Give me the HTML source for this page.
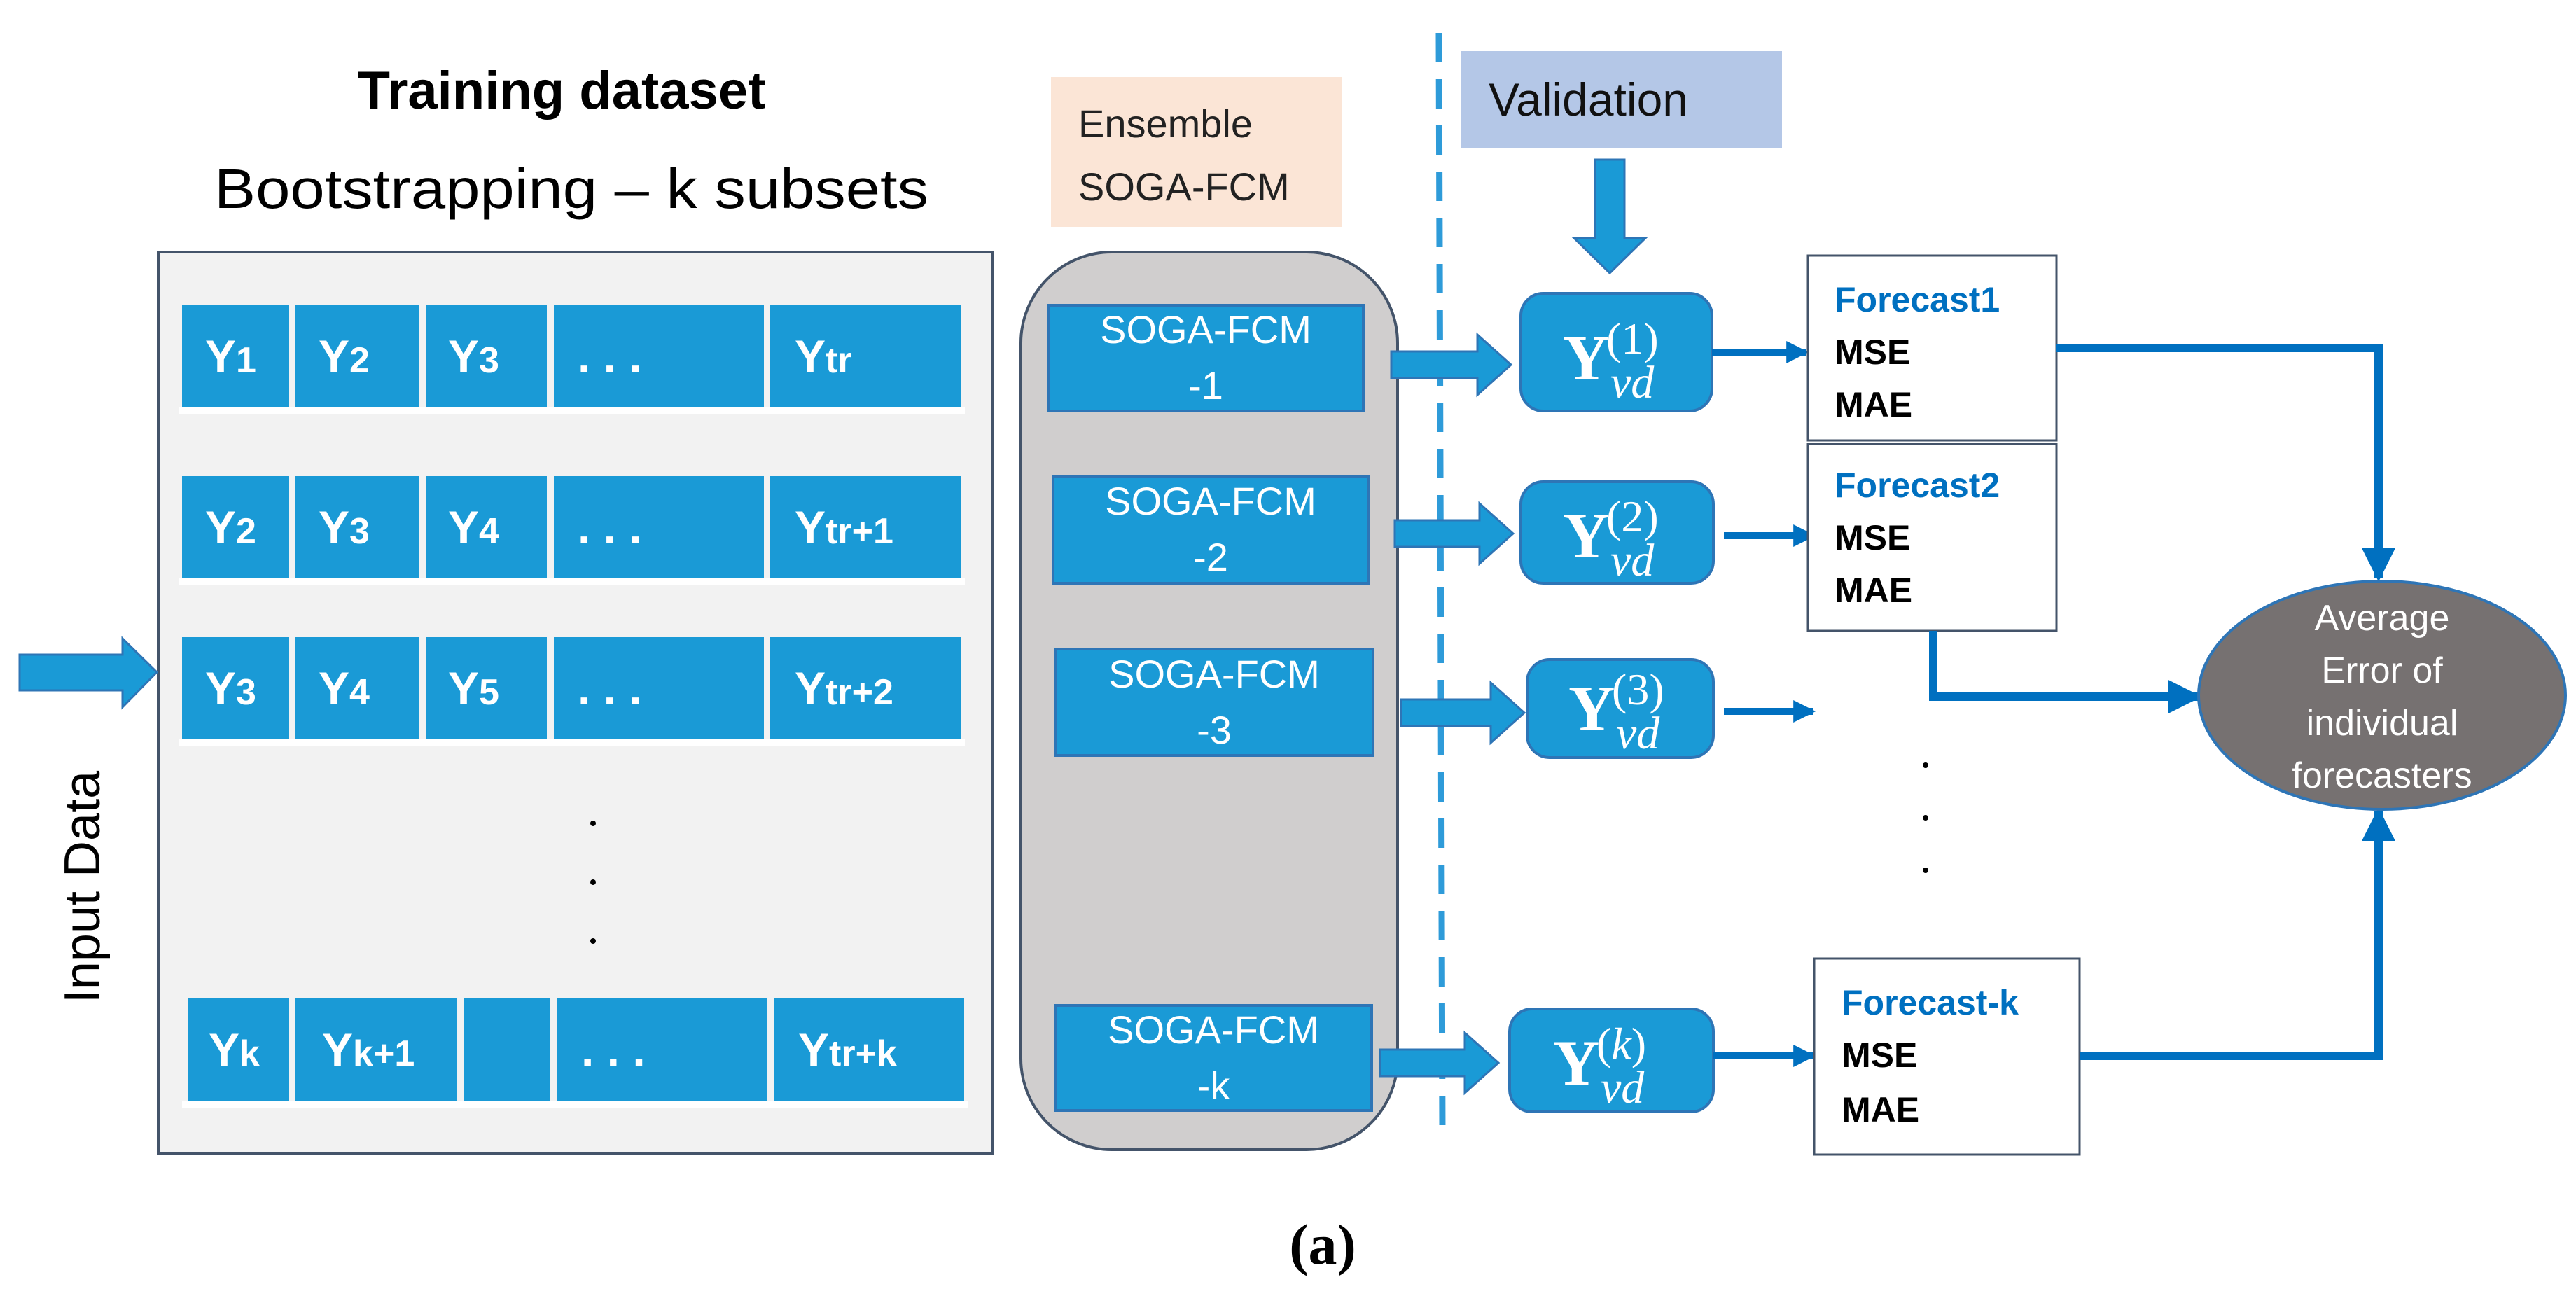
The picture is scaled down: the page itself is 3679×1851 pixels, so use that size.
<!DOCTYPE html>
<html><head><meta charset="utf-8"><style>
html,body{margin:0;padding:0;background:#fff;}
svg{display:block;}
.cell{fill:#1a9ad6;}
.ct{font-family:"Liberation Sans",sans-serif;font-weight:bold;fill:#fff;font-size:66px;}
.sg{font-family:"Liberation Sans",sans-serif;fill:#fff;font-size:56px;}
.fc{font-family:"Liberation Sans",sans-serif;font-weight:bold;font-size:50px;fill:#000;}
.fb{fill:#0070c0;}
.yn{fill:#1a9ad6;stroke:#2e75b6;stroke-width:4;}
.yt{font-family:"Liberation Serif",serif;fill:#fff;}
</style></head><body>
<svg width="3679" height="1851" viewBox="0 0 3679 1851" xmlns="http://www.w3.org/2000/svg">
<defs>
<marker id="ah" viewBox="0 0 10 10" refX="9" refY="5" markerWidth="4" markerHeight="4" orient="auto" markerUnits="strokeWidth"><path d="M0,0 L10,5 L0,10 z" fill="#0070c0"/></marker>
<marker id="ah2" viewBox="0 0 10 10" refX="9" refY="5" markerWidth="3.5" markerHeight="3.2" orient="auto" markerUnits="strokeWidth"><path d="M0,0 L10,5 L0,10 z" fill="#0070c0"/></marker>
</defs>

<text x="802" y="155" text-anchor="middle" font-family="Liberation Sans,sans-serif" font-weight="bold" font-size="76">Training dataset</text>
<text x="816" y="297" text-anchor="middle" font-family="Liberation Sans,sans-serif" font-size="80" textLength="1020" lengthAdjust="spacingAndGlyphs">Bootstrapping – k subsets</text>

<rect x="226" y="360" width="1191" height="1287" fill="#f2f2f2" stroke="#44546a" stroke-width="4"/>

<g>
<rect x="256" y="582" width="1122" height="10" fill="#fff"/>
<rect x="256" y="826" width="1122" height="10" fill="#fff"/>
<rect x="256" y="1056" width="1122" height="10" fill="#fff"/>
<rect x="260" y="1572" width="1122" height="10" fill="#fff"/>
</g>
<g class="cell">
<rect x="260" y="436" width="153" height="146"/><rect x="422" y="436" width="176" height="146"/><rect x="608" y="436" width="173" height="146"/><rect x="791" y="436" width="300" height="146"/><rect x="1100" y="436" width="272" height="146"/>
<rect x="260" y="680" width="153" height="146"/><rect x="422" y="680" width="176" height="146"/><rect x="608" y="680" width="173" height="146"/><rect x="791" y="680" width="300" height="146"/><rect x="1100" y="680" width="272" height="146"/>
<rect x="260" y="910" width="153" height="146"/><rect x="422" y="910" width="176" height="146"/><rect x="608" y="910" width="173" height="146"/><rect x="791" y="910" width="300" height="146"/><rect x="1100" y="910" width="272" height="146"/>
<rect x="268" y="1426" width="145" height="146"/><rect x="422" y="1426" width="230" height="146"/><rect x="662" y="1426" width="124" height="146"/><rect x="795" y="1426" width="300" height="146"/><rect x="1105" y="1426" width="272" height="146"/>
</g>
<g class="ct">
<text x="293" y="532">Y<tspan font-size="52">1</tspan></text>
<text x="455" y="532">Y<tspan font-size="52">2</tspan></text>
<text x="640" y="532">Y<tspan font-size="52">3</tspan></text>
<text x="825" y="532">. . .</text>
<text x="1135" y="532">Y<tspan font-size="52">tr</tspan></text>
<text x="293" y="776">Y<tspan font-size="52">2</tspan></text>
<text x="455" y="776">Y<tspan font-size="52">3</tspan></text>
<text x="640" y="776">Y<tspan font-size="52">4</tspan></text>
<text x="825" y="776">. . .</text>
<text x="1135" y="776">Y<tspan font-size="52">tr+1</tspan></text>
<text x="293" y="1006">Y<tspan font-size="52">3</tspan></text>
<text x="455" y="1006">Y<tspan font-size="52">4</tspan></text>
<text x="640" y="1006">Y<tspan font-size="52">5</tspan></text>
<text x="825" y="1006">. . .</text>
<text x="1135" y="1006">Y<tspan font-size="52">tr+2</tspan></text>
<text x="298" y="1522">Y<tspan font-size="52">k</tspan></text>
<text x="460" y="1522">Y<tspan font-size="52">k+1</tspan></text>
<text x="830" y="1522">. . .</text>
<text x="1140" y="1522">Y<tspan font-size="52">tr+k</tspan></text>
</g>
<g fill="#000"><circle cx="847" cy="1176" r="4"/><circle cx="847" cy="1260" r="4"/><circle cx="847" cy="1344" r="4"/></g>

<path d="M28,935 H175 V912 L224,960 L175,1010 V986 H28 Z" fill="#1a9ad6" stroke="#2e75b6" stroke-width="3"/>
<text transform="translate(142,1267) rotate(-90)" text-anchor="middle" font-family="Liberation Sans,sans-serif" font-size="72">Input Data</text>

<rect x="1501" y="110" width="416" height="214" fill="#fbe5d6"/>
<text x="1540" y="196" font-family="Liberation Sans,sans-serif" font-size="56" fill="#222">Ensemble</text>
<text x="1540" y="286" font-family="Liberation Sans,sans-serif" font-size="56" fill="#222">SOGA-FCM</text>
<rect x="1458" y="360" width="538" height="1282" rx="130" fill="#d0cece" stroke="#44546a" stroke-width="4"/>
<g fill="#1a9ad6" stroke="#2e75b6" stroke-width="4">
<rect x="1497" y="436" width="450" height="151"/>
<rect x="1504" y="680" width="450" height="153"/>
<rect x="1508" y="927" width="453" height="152"/>
<rect x="1508" y="1436" width="451" height="150"/>
</g>
<g class="sg" text-anchor="middle">
<text x="1722" y="490">SOGA-FCM</text><text x="1722" y="570">-1</text>
<text x="1729" y="735">SOGA-FCM</text><text x="1729" y="815">-2</text>
<text x="1734" y="982">SOGA-FCM</text><text x="1734" y="1062">-3</text>
<text x="1733" y="1490">SOGA-FCM</text><text x="1733" y="1570">-k</text>
</g>

<line x1="2055" y1="47" x2="2060" y2="1620" stroke="#2e9bd9" stroke-width="9" stroke-dasharray="42,24"/>

<rect x="2086" y="73" width="459" height="138" fill="#b4c7e7"/>
<text x="2126" y="165" font-family="Liberation Sans,sans-serif" font-size="66" fill="#111">Validation</text>
<path d="M2278,228 H2320 V340 H2350 L2299,390 L2248,340 H2278 Z" fill="#1a9ad6" stroke="#2e75b6" stroke-width="3"/>

<g fill="#1a9ad6" stroke="#2e75b6" stroke-width="3">
<path d="M1987,502 H2110 V478 L2158,521 L2110,564 V540 H1987 Z"/>
<path d="M1992,743 H2113 V719 L2161,762 L2113,805 V781 H1992 Z"/>
<path d="M2001,999 H2129 V975 L2177,1018 L2129,1061 V1037 H2001 Z"/>
<path d="M1971,1499 H2092 V1475 L2140,1518 L2092,1561 V1537 H1971 Z"/>
</g>

<rect class="yn" x="2172" y="419" width="273" height="168" rx="32"/>
<rect class="yn" x="2172" y="688" width="275" height="145" rx="32"/>
<rect class="yn" x="2181" y="942" width="266" height="140" rx="32"/>
<rect class="yn" x="2156" y="1441" width="291" height="147" rx="32"/>
<g class="yt">
<text x="2232" y="542" font-size="92" font-weight="bold">Y</text><text x="2294" y="505" font-size="64">(1)</text><text x="2300" y="568" font-size="66" font-style="italic">vd</text>
<text x="2232" y="796" font-size="92" font-weight="bold">Y</text><text x="2294" y="759" font-size="64">(2)</text><text x="2300" y="822" font-size="66" font-style="italic">vd</text>
<text x="2240" y="1043" font-size="92" font-weight="bold">Y</text><text x="2302" y="1006" font-size="64">(3)</text><text x="2308" y="1069" font-size="66" font-style="italic">vd</text>
<text x="2218" y="1549" font-size="92" font-weight="bold">Y</text><text x="2280" y="1512" font-size="64">(<tspan font-style="italic">k</tspan>)</text><text x="2286" y="1575" font-size="66" font-style="italic">vd</text>
</g>

<g stroke="#0070c0" stroke-width="10" fill="none">
<line x1="2445" y1="503" x2="2580" y2="503" marker-end="url(#ah2)"/>
<line x1="2462" y1="765" x2="2590" y2="765" marker-end="url(#ah2)"/>
<line x1="2462" y1="1016" x2="2590" y2="1016" marker-end="url(#ah2)"/>
<line x1="2447" y1="1508" x2="2590" y2="1508" marker-end="url(#ah2)"/>
</g>

<rect x="2582" y="365" width="355" height="264" fill="#fff" stroke="#44546a" stroke-width="3"/>
<rect x="2582" y="634" width="355" height="267" fill="#fff" stroke="#44546a" stroke-width="3"/>
<rect x="2591" y="1369" width="379" height="280" fill="#fff" stroke="#44546a" stroke-width="3"/>
<g class="fc">
<text x="2620" y="445" class="fb">Forecast1</text><text x="2620" y="520">MSE</text><text x="2620" y="595">MAE</text>
<text x="2620" y="710" class="fb">Forecast2</text><text x="2620" y="785">MSE</text><text x="2620" y="860">MAE</text>
<text x="2630" y="1449" class="fb">Forecast-k</text><text x="2630" y="1524">MSE</text><text x="2630" y="1602">MAE</text>
</g>

<g stroke="#0070c0" stroke-width="12" fill="none" stroke-linejoin="miter">
<polyline points="2937,497 3397,497 3397,826" marker-end="url(#ah)"/>
<polyline points="2761,901 2761,995 3140,995" marker-end="url(#ah)"/>
<polyline points="2970,1508 3397,1508 3397,1158" marker-end="url(#ah)"/>
</g>

<ellipse cx="3402" cy="993" rx="262" ry="163" fill="#767171" stroke="#2e75b6" stroke-width="4"/>
<g font-family="Liberation Sans,sans-serif" font-size="52" fill="#fff" text-anchor="middle">
<text x="3402" y="900">Average</text><text x="3402" y="975">Error of</text><text x="3402" y="1050">individual</text><text x="3402" y="1125">forecasters</text>
</g>

<g fill="#000"><circle cx="2750" cy="1093" r="4"/><circle cx="2750" cy="1168" r="4"/><circle cx="2750" cy="1243" r="4"/></g>

<text x="1889" y="1805" text-anchor="middle" font-family="Liberation Serif,serif" font-weight="bold" font-size="82">(a)</text>
</svg>
</body></html>
